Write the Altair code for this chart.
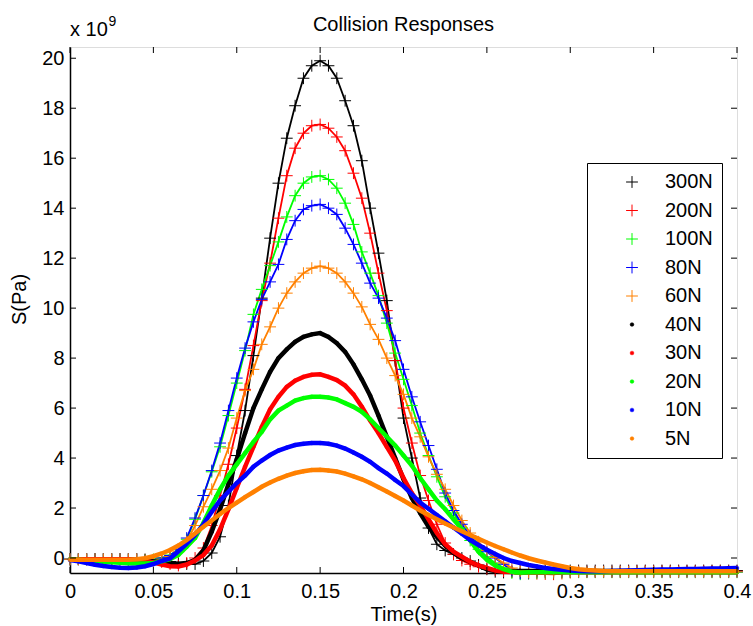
import altair as alt
import pandas as pd

FONT = "Liberation Sans"

# sampling grid of the curves (s)
TIME = [round(i * 0.005, 3) for i in range(81)]

SERIES = ["300N", "200N", "100N", "80N", "60N", "40N", "30N", "20N", "10N", "5N"]
COLORS = ["#000000", "#ff0000", "#00ff00", "#0000ff", "#ff8000",
          "#000000", "#ff0000", "#00ff00", "#0000ff", "#ff8000"]
PLUS = "M-1,0L1,0M0,-1L0,1"
SHAPES = [PLUS, PLUS, PLUS, PLUS, PLUS, "circle", "circle", "circle", "circle", "circle"]
SIZES = [140, 140, 140, 140, 140, 14, 14, 14, 14, 14]
WIDTHS = [1, 1, 1, 1, 1, 0.5, 0.5, 0.5, 0.5, 0.5]

XTICKS = [0, 0.05, 0.1, 0.15, 0.2, 0.25, 0.3, 0.35, 0.4]
YTICKS = [0, 2, 4, 6, 8, 10, 12, 14, 16, 18, 20]

# values in units of 1e9 Pa
S300 = [-0.05, -0.05, -0.05, -0.05, -0.05, -0.05, -0.05, -0.05, -0.05, -0.06,
        -0.08, -0.1, -0.14, -0.2, -0.24, -0.24, -0.12, 0.2, 0.85, 2.1,
        4.1, 5.9, 8.1, 10.4, 12.8, 15.0, 16.8, 18.1, 19.2, 19.7,
        19.9, 19.7, 19.2, 18.3, 17.3, 15.9, 14.0, 12.2, 10.3, 7.9,
        5.6, 4.0, 2.4, 1.2, 0.55, 0.3, 0.15, 0.0, -0.12, -0.28,
        -0.45, -0.55, -0.58, -0.55, -0.52, -0.5, -0.5, -0.5, -0.5, -0.5,
        -0.5, -0.5, -0.5, -0.5, -0.5, -0.5, -0.5, -0.5, -0.5, -0.5,
        -0.5, -0.5, -0.5, -0.5, -0.5, -0.5, -0.5, -0.5, -0.5, -0.5,
        -0.5]
S200 = [-0.05, -0.05, -0.05, -0.05, -0.05, -0.05, -0.05, -0.05, -0.05, -0.07,
        -0.1, -0.16, -0.24, -0.3, -0.2, 0.0, 0.4, 1.3, 2.5, 3.75,
        5.2, 6.75, 8.5, 10.3, 11.8, 13.6, 15.3, 16.4, 17.0, 17.3,
        17.35, 17.2, 16.85, 16.3, 15.4, 14.4, 13.0, 11.4, 9.9, 7.9,
        6.0, 4.6, 3.3, 2.3, 1.35, 0.6, 0.15, -0.1, -0.25, -0.35,
        -0.42, -0.48, -0.52, -0.56, -0.6, -0.62, -0.63, -0.64, -0.65, -0.62,
        -0.58, -0.55, -0.55, -0.55, -0.55, -0.55, -0.54, -0.54, -0.53, -0.53,
        -0.53, -0.53, -0.53, -0.53, -0.53, -0.53, -0.53, -0.53, -0.53, -0.53,
        -0.53]
S100 = [-0.05, -0.05, -0.05, -0.05, -0.05, -0.05, -0.05, -0.05, -0.05, -0.08,
        -0.06, 0.0, 0.12, 0.33, 0.75, 1.55, 2.5, 3.45, 4.45, 5.7,
        7.0, 8.3, 9.75, 10.75, 11.7, 12.65, 13.65, 14.5, 15.0, 15.25,
        15.3, 15.15, 14.8, 14.2, 13.35, 12.25, 11.4, 10.5, 9.4, 8.2,
        7.15, 6.1, 5.0, 4.1, 3.25, 2.45, 1.8, 1.2, 0.7, 0.35,
        0.05, -0.2, -0.4, -0.6, -0.65, -0.62, -0.6, -0.58, -0.58, -0.58,
        -0.57, -0.57, -0.57, -0.57, -0.57, -0.57, -0.57, -0.57, -0.57, -0.57,
        -0.57, -0.57, -0.57, -0.57, -0.57, -0.57, -0.57, -0.57, -0.57, -0.57,
        -0.57]
S80 = [-0.05, -0.05, -0.05, -0.05, -0.05, -0.05, -0.05, -0.05, -0.05, -0.1,
       -0.08, 0.0, 0.1, 0.35, 0.8, 1.6, 2.5, 3.5, 4.6, 5.9,
       7.2, 8.4, 9.45, 10.35, 11.05, 11.75, 12.75, 13.5, 13.95, 14.1,
       14.15, 14.0, 13.75, 13.2, 12.55, 11.8, 11.0, 10.4, 9.6, 8.7,
       7.55, 6.45, 5.45, 4.5, 3.55, 2.6, 1.9, 1.35, 0.9, 0.5,
       0.25, 0.0, -0.25, -0.5, -0.62, -0.6, -0.55, -0.55, -0.55, -0.55,
       -0.55, -0.55, -0.55, -0.55, -0.55, -0.55, -0.55, -0.55, -0.55, -0.55,
       -0.55, -0.55, -0.55, -0.55, -0.55, -0.55, -0.55, -0.55, -0.55, -0.55,
       -0.55]
S60 = [-0.05, -0.05, -0.05, -0.05, -0.05, -0.05, -0.05, -0.05, -0.05, -0.1,
       -0.1, -0.05, 0.06, 0.25, 0.65, 1.3, 2.05, 2.75, 3.5, 4.4,
       5.6, 6.7, 7.55, 8.55, 9.25, 10.0, 10.6, 11.05, 11.4, 11.6,
       11.68, 11.6, 11.4, 11.05, 10.6, 10.05, 9.35, 8.75, 8.0, 7.3,
       6.55, 5.6, 4.85, 4.05, 3.35, 2.75, 2.1, 1.5, 1.0, 0.65,
       0.3, 0.02, -0.2, -0.4, -0.52, -0.58, -0.55, -0.55, -0.55, -0.55,
       -0.55, -0.55, -0.55, -0.55, -0.55, -0.55, -0.55, -0.55, -0.55, -0.55,
       -0.55, -0.55, -0.55, -0.55, -0.55, -0.55, -0.55, -0.55, -0.55, -0.55,
       -0.55]
S40 = [-0.05, -0.05, -0.05, -0.05, -0.05, -0.05, -0.05, -0.05, -0.08, -0.1,
       -0.14, -0.18, -0.22, -0.23, -0.2, -0.08, 0.3, 1.05, 1.95, 2.95,
       3.95, 5.0, 6.0, 6.75, 7.45, 8.0, 8.35, 8.65, 8.85, 8.95,
       9.0, 8.85, 8.6, 8.25, 7.75, 7.15, 6.5, 5.7, 4.85, 4.0,
       3.15, 2.4, 1.8, 1.25, 0.85, 0.5, 0.2, 0.0, -0.15, -0.3,
       -0.45, -0.52, -0.55, -0.53, -0.52, -0.52, -0.52, -0.52, -0.52, -0.52,
       -0.52, -0.52, -0.52, -0.52, -0.52, -0.52, -0.52, -0.52, -0.52, -0.52,
       -0.52, -0.52, -0.52, -0.52, -0.52, -0.52, -0.52, -0.52, -0.52, -0.52,
       -0.52]
S30 = [-0.05, -0.05, -0.05, -0.05, -0.05, -0.05, -0.05, -0.05, -0.08, -0.12,
       -0.18, -0.26, -0.33, -0.34, -0.26, -0.1, 0.12, 0.5, 1.15, 1.95,
       2.8, 3.65, 4.45, 5.25, 5.95, 6.45, 6.85, 7.1, 7.25, 7.33,
       7.35, 7.25, 7.12, 6.9, 6.55, 6.05, 5.5, 5.0, 4.45, 3.9,
       3.2, 2.6, 2.1, 1.55, 1.0, 0.55, 0.25, 0.05, -0.15, -0.3,
       -0.4, -0.5, -0.55, -0.56, -0.57, -0.57, -0.57, -0.57, -0.57, -0.57,
       -0.57, -0.57, -0.57, -0.57, -0.57, -0.57, -0.57, -0.57, -0.57, -0.57,
       -0.57, -0.57, -0.57, -0.57, -0.57, -0.57, -0.57, -0.57, -0.57, -0.57,
       -0.57]
S20 = [-0.05, -0.07, -0.1, -0.12, -0.15, -0.17, -0.19, -0.21, -0.22, -0.22,
       -0.2, -0.13, -0.04, 0.12, 0.45, 0.8, 1.4, 2.1, 2.75, 3.3,
       3.75, 4.2, 4.65, 5.05, 5.55, 5.9, 6.1, 6.3, 6.4, 6.45,
       6.45, 6.42, 6.35, 6.2, 6.05, 5.85, 5.55, 5.2, 4.85, 4.5,
       4.1, 3.7, 3.2, 2.75, 2.3, 1.95, 1.55, 1.15, 0.7, 0.25,
       -0.07, -0.3, -0.45, -0.55, -0.58, -0.57, -0.57, -0.57, -0.57, -0.57,
       -0.57, -0.57, -0.57, -0.57, -0.57, -0.57, -0.57, -0.57, -0.57, -0.57,
       -0.57, -0.57, -0.57, -0.57, -0.57, -0.57, -0.57, -0.57, -0.57, -0.57,
       -0.57]
S10 = [-0.08, -0.13, -0.2, -0.27, -0.32, -0.36, -0.39, -0.4, -0.38, -0.33,
       -0.24, -0.12, -0.02, 0.27, 0.58, 0.92, 1.35, 1.85, 2.3, 2.65,
       3.0, 3.3, 3.65, 3.9, 4.12, 4.3, 4.42, 4.52, 4.57, 4.6,
       4.6, 4.57, 4.5, 4.38, 4.22, 4.05, 3.85, 3.6, 3.38, 3.12,
       2.88, 2.55, 2.22, 1.97, 1.72, 1.47, 1.22, 0.97, 0.72, 0.52,
       0.33, 0.16, 0.0, -0.12, -0.2, -0.28, -0.34, -0.4, -0.44, -0.47,
       -0.5, -0.52, -0.53, -0.53, -0.53, -0.52, -0.51, -0.5, -0.49, -0.48,
       -0.47, -0.46, -0.46, -0.45, -0.44, -0.44, -0.43, -0.42, -0.42, -0.41,
       -0.4]
S5 = [-0.07, -0.07, -0.07, -0.07, -0.07, -0.07, -0.07, -0.07, -0.05, -0.01,
      0.07, 0.18, 0.32, 0.5, 0.72, 0.98, 1.25, 1.5, 1.76, 2.0,
      2.22, 2.44, 2.64, 2.85, 3.02, 3.17, 3.3, 3.4, 3.47, 3.52,
      3.53, 3.5, 3.46, 3.38, 3.27, 3.15, 3.0, 2.83, 2.66, 2.48,
      2.3, 2.1, 1.9, 1.72, 1.55, 1.38, 1.22, 1.07, 0.92, 0.77,
      0.62, 0.48, 0.35, 0.22, 0.1, -0.01, -0.1, -0.18, -0.26, -0.33,
      -0.4, -0.45, -0.48, -0.5, -0.52, -0.53, -0.53, -0.53, -0.53, -0.53,
      -0.53, -0.53, -0.53, -0.53, -0.53, -0.53, -0.53, -0.53, -0.53, -0.53,
      -0.53]

VALUES = [S300, S200, S100, S80, S60, S40, S30, S20, S10, S5]

rows = []
for k, (name, vals) in enumerate(zip(SERIES, VALUES)):
    for t, v in zip(TIME, vals):
        rows.append({"t": t, "v": v, "series": name})
df = pd.DataFrame(rows)

W, H = 667, 526

xscale = alt.Scale(domain=[0, 0.4], nice=False, zero=False)
yscale = alt.Scale(domain=[-0.6, 20.45], nice=False, zero=False)

xaxis = alt.Axis(values=XTICKS, format="~g", title="Time(s)", grid=False,
                 ticks=False, labelPadding=8, labelFontSize=20,
                 labelFont=FONT, labelColor="black", titleFont=FONT,
                 titleFontSize=20, titleFontWeight="normal", titleColor="black",
                 titleBaseline="alphabetic", titleY=47,
                 domainColor="black", domainWidth=1.5, labelFlush=False)
yaxis = alt.Axis(values=YTICKS, format="~g", title="S(Pa)", grid=False,
                 ticks=False, labelPadding=6, labelFontSize=20,
                 labelFont=FONT, labelColor="black", titleFont=FONT,
                 titleFontSize=20, titleFontWeight="normal", titleColor="black",
                 titleBaseline="middle", titleX=-51, titleY=252, titleAngle=-90,
                 domainColor="black", domainWidth=1.5, labelFlush=False)

X = alt.X("t:Q", scale=xscale, axis=xaxis)
Y = alt.Y("v:Q", scale=yscale, axis=yaxis)

legend = alt.Legend(title=None, orient="none", legendX=517, legendY=116,
                    labelFontSize=20, labelFont=FONT, labelColor="black",
                    padding=9, rowPadding=8.5, symbolOffset=26, labelOffset=23,
                    strokeColor="black", fillColor="white")


def series_line(name, color, width):
    return alt.Chart(df).transform_filter(
        alt.datum.series == name
    ).mark_line(color=color, strokeWidth=width).encode(x=X, y=Y)


plus_lines = [series_line(n, c, 1.8) for n, c in zip(SERIES[:5], COLORS[:5])]
dot_lines = [series_line(n, c, 4.5) for n, c in zip(SERIES[5:], COLORS[5:])]

points = alt.Chart(df).mark_point(filled=True, opacity=1).encode(
    x=X, y=Y,
    color=alt.Color("series:N", scale=alt.Scale(domain=SERIES, range=COLORS), legend=legend),
    stroke=alt.Stroke("series:N", scale=alt.Scale(domain=SERIES, range=COLORS), legend=legend),
    shape=alt.Shape("series:N", scale=alt.Scale(domain=SERIES, range=SHAPES), legend=legend),
    size=alt.Size("series:N", scale=alt.Scale(type="ordinal", domain=SERIES, range=SIZES), legend=legend),
    strokeWidth=alt.StrokeWidth("series:N", scale=alt.Scale(type="ordinal", domain=SERIES, range=WIDTHS), legend=legend),
)

xt = pd.DataFrame({"t": XTICKS})
yt = pd.DataFrame({"v": YTICKS})
tick_x_bottom = alt.Chart(xt).mark_rule(color="black", strokeWidth=1).encode(
    x=X, y=alt.value(H), y2=alt.value(H - 6))
tick_x_top = alt.Chart(xt).mark_rule(color="black", strokeWidth=1).encode(
    x=X, y=alt.value(0), y2=alt.value(6))
tick_y_left = alt.Chart(yt).mark_rule(color="black", strokeWidth=1).encode(
    y=Y, x=alt.value(0), x2=alt.value(6))
tick_y_right = alt.Chart(yt).mark_rule(color="black", strokeWidth=1).encode(
    y=Y, x=alt.value(W), x2=alt.value(W - 6))

title_txt = alt.Chart(pd.DataFrame({"s": ["Collision Responses"]})).mark_text(
    align="center", baseline="alphabetic", fontSize=20, font=FONT, color="black"
).encode(text="s:N", x=alt.value(W / 2), y=alt.value(-16))
exp_base = alt.Chart(pd.DataFrame({"s": ["x 10"]})).mark_text(
    align="left", baseline="alphabetic", fontSize=20, font=FONT, color="black"
).encode(text="s:N", x=alt.value(0), y=alt.value(-11))
exp_sup = alt.Chart(pd.DataFrame({"s": ["9"]})).mark_text(
    align="left", baseline="alphabetic", fontSize=14, font=FONT, color="black"
).encode(text="s:N", x=alt.value(38.5), y=alt.value(-21))

chart = alt.layer(
    *plus_lines, points, *dot_lines,
    tick_x_bottom, tick_x_top, tick_y_left, tick_y_right,
    title_txt, exp_base, exp_sup,
).properties(
    width=W, height=H,
    autosize=alt.AutoSizeParams(type="none"),
    padding={"left": 70, "top": 47, "right": 16, "bottom": 53},
).configure_view(
    stroke="black", strokeWidth=1.5
).configure_legend(
    strokeWidth=1.5
).configure(background="white")

chart.save("out.html", embed_options={"renderer": "svg", "actions": False})
